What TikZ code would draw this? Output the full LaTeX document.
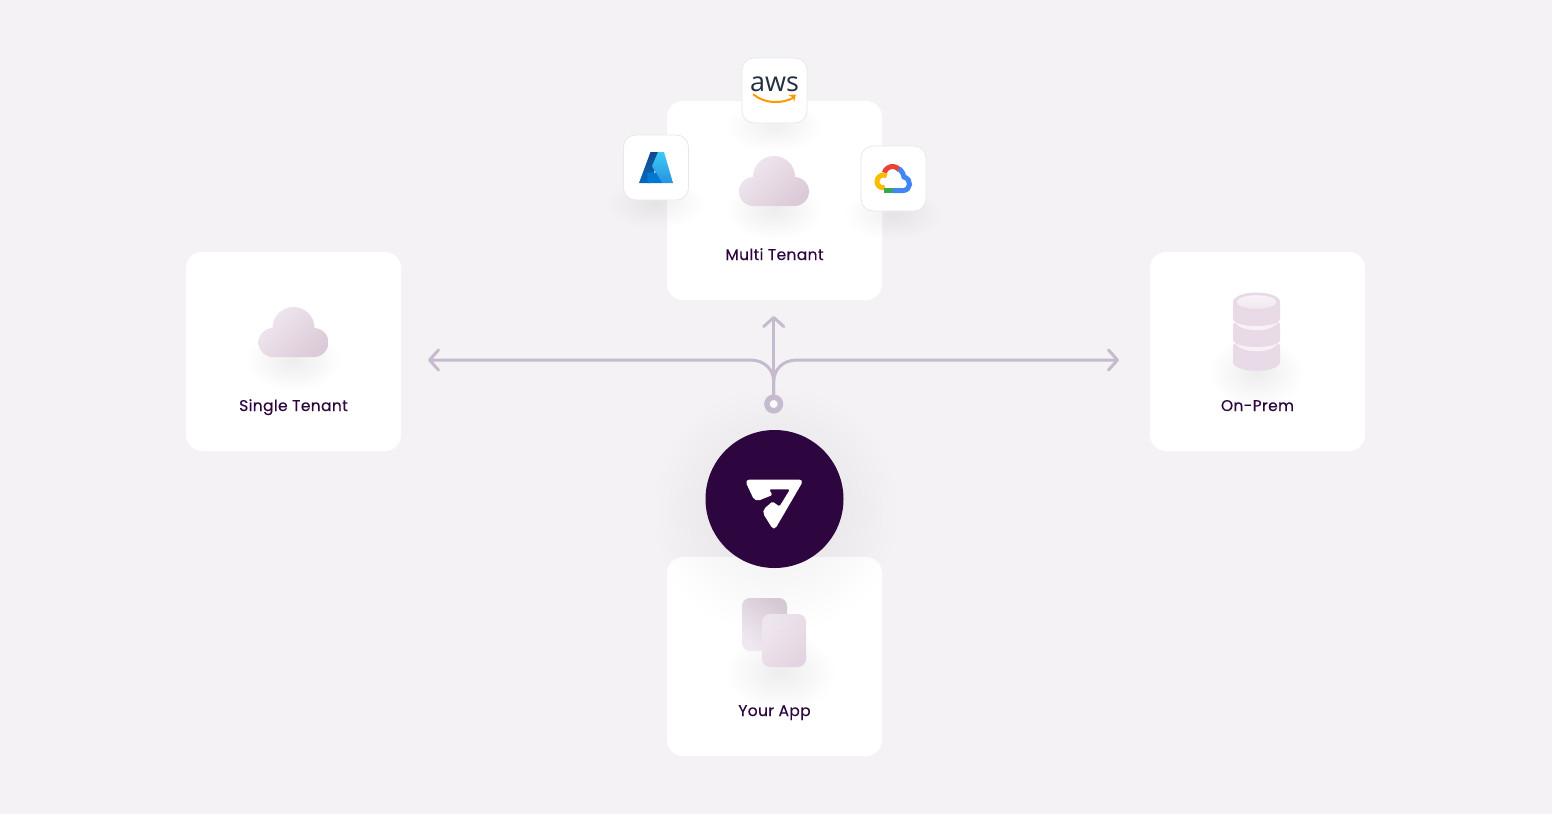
\documentclass[tikz,border=0pt]{standalone}
\usepackage{fontspec}
\setmainfont{Poppins}
\newfontfamily\labelfont{Poppins}[LetterSpace=2.2,FakeBold=0.25]
\newfontfamily\awsfont{Open Sans}
\usepackage{tikz}
\usetikzlibrary{arrows.meta, fadings}
\definecolor{pagebg}{HTML}{F4F2F5}
\definecolor{plum}{HTML}{2D0640}
\definecolor{linkcol}{HTML}{C5BACE}
\definecolor{iconlight}{HTML}{EFE8F0}
\definecolor{icondark}{HTML}{DCCAD8}
\definecolor{stackcol}{HTML}{E9DAE7}
\definecolor{stackrim}{HTML}{E8D9E6}
\definecolor{stackpale}{HTML}{F8F2F8}
\definecolor{sheetback}{HTML}{D9CDD9}
\definecolor{sheetfront}{HTML}{E4D4E1}
\definecolor{awsink}{HTML}{232F3E}
\definecolor{awsorange}{HTML}{FF9900}
\definecolor{azdark}{HTML}{114A8B}
\definecolor{azmid}{HTML}{0669BC}
\definecolor{azcore}{HTML}{0078D4}
\definecolor{azlight}{HTML}{3CCBF4}
\definecolor{azside}{HTML}{2892DF}
\definecolor{gred}{HTML}{EA4335}
\definecolor{gyellow}{HTML}{FBBC05}
\definecolor{ggreen}{HTML}{34A853}
\definecolor{gblue}{HTML}{4285F4}
\tikzfading[name=softedge, inner color=transparent!0, outer color=transparent!100]
\tikzstyle{card} = [draw=none, fill=white, rectangle, rounded corners=16pt,
    minimum width=215pt, minimum height=199pt, inner sep=0pt]
\tikzstyle{tile} = [draw=black!9, line width=0.8pt, fill=white, rectangle, rounded corners=12pt,
    minimum width=65pt, minimum height=65pt, inner sep=0pt]
\tikzstyle{cardtext} = [anchor=base, text=plum, font=\labelfont\fontsize{15.5}{18}\selectfont, inner sep=0pt]
\tikzstyle{arrow} = [color=linkcol, line width=3pt, line cap=round,
    -{Straight Barb[length=9pt,width=20pt,round]}]
\tikzstyle{iconfill} = [top color=iconlight, bottom color=icondark, shading angle=45]
\newcommand{\softshadow}[5]{\fill[black, opacity=#5, path fading=softedge] (#1,#2) ellipse[x radius=#3, y radius=#4];}
\newcommand{\cloudicon}[2]{%
    \softshadow{#1}{#2+33}{48}{30}{0.07}
    \begin{scope}
        \clip (#1,#2) circle[radius=21] (#1+35,#2) [rounded corners=14.5pt] rectangle (#1-35,#2+29);
        \shade[iconfill] (#1-35,#2-21) rectangle (#1+35,#2+29);
    \end{scope}}
\begin{document}
\begin{tikzpicture}[x=1pt, y=-1pt]
    \useasboundingbox (0,0) rectangle (1552,814);
    \fill[pagebg] (0,0) rectangle (1552,814);

    % Cards
    \node (single) [card] at (293.5,351.5) {};
    \node (multi) [card] at (774.5,200.5) {};
    \node (onprem) [card] at (1257.5,351.5) {};
    \node (yourapp) [card] at (774.5,656.5) {};

    % Labels
    \node (singletext) [cardtext] at (293.5,411) {Single Tenant};
    \node (multitext) [cardtext] at (774.5,260) {Multi Tenant};
    \node (onpremtext) [cardtext] at (1257.5,411) {On-Prem};
    \node (yourapptext) [cardtext] at (774.5,716) {Your App};

    % Clouds
    \cloudicon{293.5}{328}
    \cloudicon{774}{177}

    % Provider tiles
    \softshadow{774}{126}{50}{26}{0.06}
    \softshadow{656}{203}{50}{26}{0.06}
    \softshadow{893}{214}{50}{26}{0.06}
    \node (awstile) [tile] at (774.5,90.5) {};
    \node (azuretile) [tile] at (656,167.5) {};
    \node (gcptile) [tile] at (893.5,178.5) {};

    % AWS
    \node (awstext) [text=awsink, inner sep=0pt, font=\awsfont\fontsize{27}{27}\selectfont] at (774.5,84.5) {aws};
    \draw[color=awsorange, line width=2pt, line cap=round] (753.5,94.5) .. controls (765,104) and (782,104) .. (794,97.5);
    \fill[color=awsorange] (788,95) -- (796,94.5) -- (794,102) -- (793,97.5) -- cycle;

    % Azure
    \shade[top color=azdark, bottom color=azmid] (650.5,152) -- (661.5,152) -- (650,183) -- (639,183) -- cycle;
    \shade[top color=azlight, bottom color=azside] (658,152) -- (664,152) -- (673,183) -- (661.5,183) -- (652,166) -- cycle;
    \fill[color=azcore] (647,172.5) -- (656,172.5) -- (662,183) -- (648,183) -- cycle;

    % Google Cloud
    \draw[color=gred, line width=5pt] ([shift={(892.5,175)}]35:8.5pt) arc[start angle=35, end angle=165, radius=8.5pt];
    \draw[color=gyellow, line width=5pt] ([shift={(883.5,181.5)}]60:6.5pt) arc[start angle=60, end angle=280, radius=6.5pt];
    \draw[color=ggreen, line width=5pt] (884,190.5) -- (893.5,190.5);
    \draw[color=gblue, line width=5pt] (893,190.5) -- (903,190.5) .. controls (911,190.5) and (912,179) .. (904,177) .. controls (903,173) .. (899,168.5);

    % On-Prem stack
    \softshadow{1256.5}{372}{48}{36}{0.07}
    \fill[color=stackcol] (1233,302) -- (1280,302) -- (1280,362) arc[start angle=0, end angle=-180, x radius=23.5pt, y radius=9pt] -- cycle;
    \fill[color=stackrim] (1256.5,302) ellipse[x radius=23.5, y radius=9.5];
    \shade[top color=stackpale, bottom color=iconlight] (1256.5,302) ellipse[x radius=20, y radius=6.8];
    \fill[color=stackpale] (1235,322) .. controls (1241,333) and (1272,333) .. (1278,322) .. controls (1270,327.5) and (1243,327.5) .. (1235,322) -- cycle;
    \fill[color=stackpale] (1235,343) .. controls (1241,354) and (1272,354) .. (1278,343) .. controls (1270,348.5) and (1243,348.5) .. (1235,343) -- cycle;
    \fill[color=white] (1232,319) -- (1235,322) -- (1232,325) -- cycle (1281,319) -- (1278,322) -- (1281,325) -- cycle;
    \fill[color=white] (1232,340) -- (1235,343) -- (1232,346) -- cycle (1281,340) -- (1278,343) -- (1281,346) -- cycle;

    % App sheets
    \softshadow{780}{672}{56}{40}{0.07}
    \shade[top color=sheetback, bottom color=iconlight, shading angle=-45, rounded corners=8pt] (742,598) rectangle (787,651);
    \shade[top color=iconlight, bottom color=sheetfront, shading angle=45, rounded corners=8pt] (762,614) rectangle (806,667);

    % Logo
    \softshadow{775}{510}{125}{125}{0.07}
    \node (logo) [circle, fill=plum, minimum size=138pt, inner sep=0pt] at (774.5,499) {};
    \fill[white, rounded corners=5pt] (775,479.5) -- (804,479.5) -- (774,531) -- (761.5,511) [rounded corners=1.5pt] -- (772.5,501.5) -- (779.5,506.5) -- (790,489.3) -- (769,489.3) -- (772.5,495) [rounded corners=5pt] -- (755,502) -- (744.5,479.5) -- cycle;

    % Arrows
    \node (hub) [circle, draw=linkcol, line width=5.5pt, fill=pagebg!40!white, minimum size=13.5pt, inner sep=0pt] at (773.7,404) {};
    \coordinate (leftend) at (428,360);
    \coordinate (rightend) at (1119,360);
    \coordinate (upend) at (773.7,316);
    \draw [arrow] (hub.north) -- (upend);
    \draw [arrow] (hub.north) -- ++(0,-13) .. controls (773.7,370) and (765,360) .. (750,360) -- (leftend);
    \draw [arrow] (hub.north) -- ++(0,-13) .. controls (773.7,370) and (782.4,360) .. (797,360) -- (rightend);
\end{tikzpicture}
\end{document}
